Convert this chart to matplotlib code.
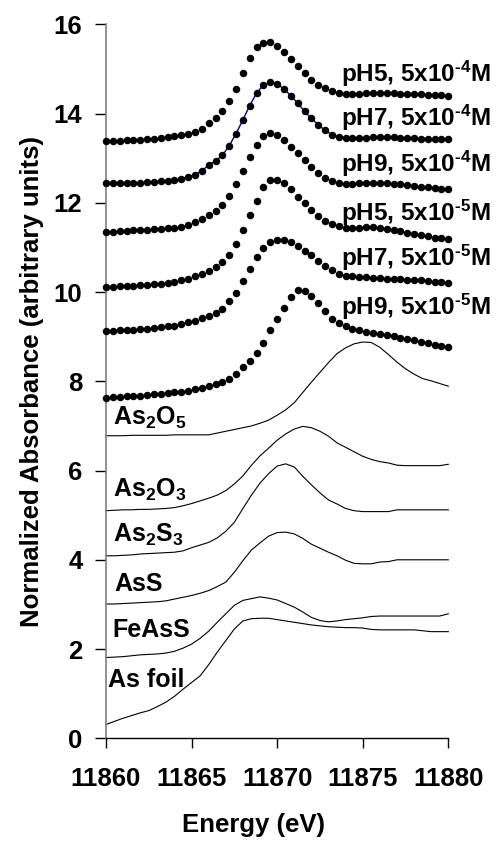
import numpy as np
import matplotlib
matplotlib.use("Agg")
import matplotlib.pyplot as plt

plt.rcParams['font.family'] = ['Liberation Sans', 'DejaVu Sans']
plt.rcParams['font.weight'] = 'bold'
plt.rcParams['mathtext.fontset'] = 'custom'
plt.rcParams['mathtext.rm'] = 'Liberation Sans:bold'
plt.rcParams['mathtext.bf'] = 'Liberation Sans:bold'
plt.rcParams['mathtext.default'] = 'bf'

# sorption samples, 0.4 eV steps
e_samp = np.round(np.arange(11860, 11880.01, 0.4), 1)

ph5_hi = [13.38, 13.38, 13.39, 13.40, 13.40, 13.41, 13.42, 13.44, 13.46, 13.48, 13.50, 13.52, 13.55, 13.59,
          13.66, 13.78, 13.90, 14.06, 14.28, 14.56, 14.90, 15.24, 15.48, 15.58, 15.60,
          15.52, 15.38, 15.22, 15.06, 14.90, 14.76, 14.65, 14.57, 14.50, 14.46, 14.44,
          14.43, 14.44, 14.45, 14.46, 14.46, 14.45, 14.45, 14.44, 14.44, 14.43, 14.43, 14.42, 14.42, 14.41, 14.40]
ph7_hi = [12.44, 12.44, 12.44, 12.45, 12.45, 12.45, 12.46, 12.47, 12.48, 12.49, 12.51, 12.54, 12.58, 12.63,
          12.72, 12.84, 12.94, 13.06, 13.28, 13.55, 13.86, 14.18, 14.46, 14.64, 14.70,
          14.66, 14.55, 14.40, 14.23, 14.05, 13.89, 13.75, 13.62, 13.53, 13.48, 13.46,
          13.45, 13.45, 13.46, 13.47, 13.48, 13.48, 13.47, 13.46, 13.45, 13.45, 13.44, 13.44, 13.43, 13.43, 13.42]
ph9_hi = [11.34, 11.35, 11.36, 11.37, 11.38, 11.39, 11.40, 11.41, 11.42, 11.43, 11.44, 11.46, 11.50, 11.56,
          11.64, 11.72, 11.82, 11.95, 12.15, 12.42, 12.71, 13.03, 13.30, 13.50, 13.57,
          13.53, 13.41, 13.26, 13.11, 12.95, 12.80, 12.66, 12.55, 12.48, 12.45, 12.43,
          12.43, 12.44, 12.45, 12.45, 12.45, 12.44, 12.43, 12.41, 12.40, 12.38, 12.36, 12.35, 12.33, 12.32, 12.31]
ph5_lo = [10.12, 10.12, 10.13, 10.13, 10.14, 10.15, 10.16, 10.17, 10.19, 10.21, 10.23, 10.26, 10.30, 10.35,
          10.41, 10.48, 10.56, 10.67, 10.84, 11.08, 11.38, 11.72, 12.05, 12.35, 12.51,
          12.52, 12.44, 12.30, 12.14, 11.99, 11.84, 11.71, 11.60, 11.52, 11.47, 11.44,
          11.43, 11.44, 11.45, 11.45, 11.44, 11.42, 11.39, 11.36, 11.33, 11.30, 11.27, 11.25, 11.22, 11.20, 11.18]
ph7_lo = [9.13, 9.13, 9.14, 9.15, 9.16, 9.17, 9.18, 9.20, 9.21, 9.23, 9.25, 9.28, 9.32, 9.36,
          9.41, 9.47, 9.53, 9.63, 9.79, 9.98, 10.25, 10.52, 10.78, 10.98, 11.12,
          11.17, 11.17, 11.12, 11.04, 10.93, 10.82, 10.70, 10.59, 10.49, 10.41, 10.37,
          10.35, 10.34, 10.33, 10.32, 10.31, 10.30, 10.30, 10.29, 10.28, 10.27, 10.26, 10.25, 10.23, 10.22, 10.20]
ph9_lo = [7.63, 7.64, 7.65, 7.66, 7.67, 7.68, 7.70, 7.71, 7.72, 7.73, 7.75, 7.77, 7.79, 7.82,
          7.85, 7.89, 7.93, 7.98, 8.06, 8.17, 8.31, 8.46, 8.64, 8.86, 9.14,
          9.40, 9.65, 9.88, 10.04, 10.03, 9.92, 9.76, 9.57, 9.40, 9.30, 9.23,
          9.18, 9.14, 9.11, 9.08, 9.06, 9.04, 9.01, 8.98, 8.95, 8.92, 8.89, 8.85, 8.82, 8.79, 8.76]

sample_labels = ["pH5, 5x10$^{\u20104}$M", "pH7, 5x10$^{\u20104}$M", "pH9, 5x10$^{\u20104}$M",
                 "pH5, 5x10$^{\u20105}$M", "pH7, 5x10$^{\u20105}$M", "pH9, 5x10$^{\u20105}$M"]
sample_label_y = [14.89, 13.91, 12.88, 11.78, 10.77, 9.67]

# reference minerals, 0.5 eV steps
e_ref = np.round(np.arange(11860, 11880.01, 0.5), 1)

as2o5 = [6.78, 6.78, 6.78, 6.79, 6.79, 6.79, 6.79, 6.79, 6.80, 6.80, 6.80, 6.80, 6.80, 6.84, 6.88, 6.92,
         6.96, 7.00, 7.06, 7.13, 7.24, 7.36, 7.52, 7.75, 7.98, 8.20, 8.42, 8.62, 8.75, 8.84, 8.88,
         8.87, 8.76, 8.60, 8.43, 8.28, 8.16, 8.06, 8.01, 7.95, 7.89]
as2o3 = [5.10, 5.11, 5.12, 5.12, 5.13, 5.13, 5.14, 5.15, 5.17, 5.21, 5.26, 5.32, 5.38, 5.45, 5.55, 5.70,
         5.88, 6.12, 6.33, 6.50, 6.68, 6.82, 6.93, 6.99, 6.96, 6.88, 6.77, 6.62, 6.52, 6.42, 6.32,
         6.25, 6.20, 6.17, 6.12, 6.11, 6.11, 6.11, 6.11, 6.11, 6.14]
as2s3 = [4.09, 4.09, 4.10, 4.11, 4.13, 4.14, 4.15, 4.16, 4.17, 4.20, 4.27, 4.33, 4.39, 4.49, 4.64, 4.84,
         5.15, 5.45, 5.72, 5.93, 6.10, 6.15, 6.08, 5.87, 5.68, 5.50, 5.34, 5.25, 5.15, 5.10, 5.08,
         5.08, 5.08, 5.08, 5.12, 5.12, 5.12, 5.12, 5.12, 5.12, 5.12]
ass = [3.01, 3.01, 3.02, 3.03, 3.04, 3.05, 3.06, 3.08, 3.12, 3.16, 3.20, 3.25, 3.31, 3.40, 3.50, 3.72,
       3.98, 4.22, 4.38, 4.53, 4.61, 4.62, 4.58, 4.48, 4.35, 4.26, 4.17, 4.09, 3.99, 3.92, 3.91,
       3.91, 3.95, 3.96, 4.00, 4.00, 4.00, 4.00, 4.00, 4.00, 4.00]
feass = [1.81, 1.82, 1.83, 1.85, 1.87, 1.88, 1.89, 1.91, 1.95, 2.02, 2.11, 2.24, 2.40, 2.60, 2.79, 2.98,
         3.09, 3.13, 3.17, 3.14, 3.10, 3.02, 2.94, 2.83, 2.71, 2.64, 2.61, 2.63, 2.66, 2.68, 2.70,
         2.73, 2.74, 2.74, 2.74, 2.74, 2.74, 2.74, 2.74, 2.74, 2.79]
as_foil = [0.31, 0.38, 0.45, 0.51, 0.57, 0.62, 0.71, 0.81, 0.94, 1.10, 1.25, 1.40, 1.65, 1.93, 2.19, 2.45,
           2.63, 2.68, 2.69, 2.69, 2.66, 2.63, 2.60, 2.57, 2.54, 2.52, 2.50, 2.49, 2.48, 2.48, 2.47,
           2.44, 2.43, 2.43, 2.43, 2.43, 2.43, 2.41, 2.39, 2.39, 2.39]

ref_labels = ["As$_2$O$_5$", "As$_2$O$_3$", "As$_2$S$_3$", "AsS", "FeAsS", "As foil"]
ref_label_x = [11860.4, 11860.4, 11860.4, 11860.5, 11860.4, 11860.1]
ref_label_y = [7.18, 5.57, 4.56, 3.46, 2.43, 1.31]

fig = plt.figure(figsize=(4.99, 8.46), dpi=100)
ax = fig.add_axes([0.2124, 0.1273, 0.686, 0.844])

samples = [ph5_hi, ph7_hi, ph9_hi, ph5_lo, ph7_lo, ph9_lo]
# fitted curve under the pH7 high-concentration spectrum
ax.plot(e_samp, ph7_hi, color='#000080', lw=1.0, zorder=2, clip_on=False)
for s in samples:
    ax.plot(e_samp, s, 'o', color='black', ms=5.4, mew=0, zorder=3, clip_on=False)

for r in [as2o5, as2o3, as2s3, ass, feass, as_foil]:
    ax.plot(e_ref, r, color='black', lw=0.8, zorder=2, clip_on=False)

for lab, y in zip(sample_labels, sample_label_y):
    ax.text(11882.5, y, lab, ha='right', va='center', fontsize=17.5, fontweight='bold',
            clip_on=False)
for lab, x, y in zip(ref_labels, ref_label_x, ref_label_y):
    ax.text(x, y, lab, ha='left', va='center', fontsize=18, fontweight='bold')

ax.set_xlim(11860, 11880)
ax.set_ylim(0, 16)
ax.set_xticks(np.arange(11860, 11881, 5))
ax.set_yticks(np.arange(0, 17, 2))
ax.spines['top'].set_visible(False)
ax.spines['right'].set_visible(False)
ax.spines['left'].set_color('#808080')
ax.spines['left'].set_linewidth(1.2)
ax.spines['bottom'].set_linewidth(1.0)
ax.tick_params(axis='y', direction='out', length=8, width=1, pad=9, labelsize=18.5)
ax.tick_params(axis='x', direction='out', length=7, width=1, pad=14, labelsize=18.5)
for t in ax.get_xticklabels() + ax.get_yticklabels():
    t.set_fontweight('bold')

ax.set_xlabel("Energy (eV)", fontsize=18.5, fontweight='bold')
ax.xaxis.set_label_coords(0.43, -0.105)
ax.set_ylabel("Normalized Absorbance (arbitrary units)", fontsize=18.5, fontweight='bold',
              labelpad=7)

fig.savefig("out.png", dpi=100)
